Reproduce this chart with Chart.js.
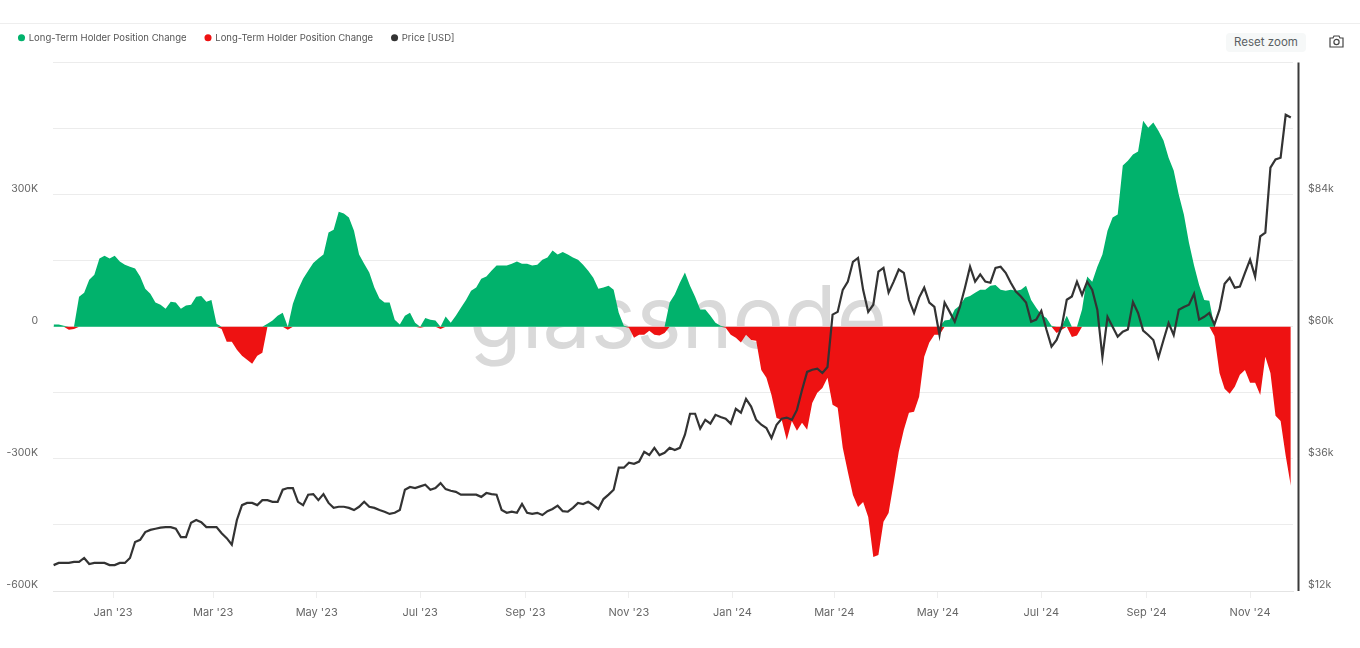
<!DOCTYPE html>
<html><head><meta charset="utf-8">
<script src="https://cdn.jsdelivr.net/npm/chart.js@4"></script>
<style>
html,body{margin:0;padding:0;background:#fff;width:1360px;height:648px;overflow:hidden;font-family:Inter,sans-serif}
#wrap{position:relative;width:1360px;height:648px}
#top{position:absolute;left:0;right:0;top:23px;height:1px;background:#eeeeee}
#mark{position:absolute;left:469px;top:262px;font:400 86px/110px Inter,sans-serif;color:#d9d9d9;white-space:nowrap}
#reset{position:absolute;left:1226px;top:33px;width:80px;height:19px;background:#f6f8f8;border-radius:4px;color:#5a5f63;font:400 11.5px/19px Inter,sans-serif;text-align:center}
#cam{position:absolute;left:1329px;top:35px}
canvas{position:absolute;left:0;top:0}
</style></head>
<body><div id="wrap">
<div id="top"></div>
<div id="mark">glassnode</div>
<canvas id="c" width="1360" height="648"></canvas>
<div id="reset">Reset zoom</div>
<svg id="cam" width="15" height="13" viewBox="0 0 15 13" fill="none" stroke="#444" stroke-width="1.2"><path d="M1 3h3l1-2h5l1 2h3v9H1z"/><circle cx="7.5" cy="7" r="2.6"/></svg>
</div>
<script>
// Day offsets are counted from 1 Jan 2023; one sample every three days.
const firstDay = -35, stepDays = 3;
const monthTicks = [0,59,120,181,243,304,365,425,486,547,609,670];
const monthLabels = ["Jan '23","Mar '23","May '23","Jul '23","Sep '23","Nov '23","Jan '24","Mar '24","May '24","Jul '24","Sep '24","Nov '24"];
// Long-term holder position change, thousands of BTC
const positionChange = [
5,5,2,-7,-5,68,77,107,118,155,
161,155,161,148,141,136,132,114,86,75,
55,50,41,57,55,41,48,50,68,70,
57,61,7,-5,-34,-34,-52,-66,-75,-84,
-66,-59,7,14,25,32,-7,52,84,109,
127,145,155,164,214,220,261,257,248,218,
164,143,123,89,64,55,55,16,5,25,
32,9,-2,20,16,14,-5,23,9,25,
43,61,82,89,109,114,127,139,139,139,
143,148,143,143,139,141,152,157,173,164,
170,164,157,152,141,127,111,86,89,93,
84,32,2,-2,-25,-18,-18,-9,-18,-20,
-14,55,73,100,123,93,68,39,39,25,
9,2,-2,-18,-25,-36,-18,-30,-32,-98,
-116,-155,-207,-211,-257,-214,-236,-218,-234,-173,
-150,-139,-116,-177,-184,-275,-330,-382,-409,-398,
-432,-523,-518,-443,-423,-355,-284,-234,-195,-193,
-159,-68,-36,-18,-18,14,16,39,48,66,
70,77,84,84,93,95,84,82,84,82,
84,93,61,43,27,20,2,-14,-7,25,
-23,-20,39,114,102,136,164,218,248,255,
366,377,391,398,468,452,464,445,423,384,
355,300,255,191,139,95,61,59,-21,-105,
-141,-152,-136,-109,-98,-127,-127,-155,-68,-105,
-202,-214,-293,-361];
// BTC price, thousands of USD
const priceUsd = [
16.7,17.1,17.1,17.1,17.3,17.3,18.0,16.9,17.1,17.1,
17.1,16.7,16.7,17.1,17.1,18.0,20.9,21.3,22.7,23.1,
23.3,23.5,23.6,23.6,23.3,21.8,21.8,24.4,24.9,24.5,
23.6,23.6,23.6,22.5,21.6,20.4,24.9,27.6,28.0,28.0,
27.6,28.5,28.5,28.2,28.2,30.4,30.7,30.7,28.2,27.6,
29.5,29.6,28.5,29.6,28.0,27.1,27.3,27.3,27.1,26.7,
27.3,28.2,27.3,27.1,26.7,26.4,26.0,26.2,26.7,30.4,
30.9,30.7,31.0,31.3,30.4,30.7,31.6,30.5,30.2,30.0,
29.5,29.5,29.5,29.5,29.1,29.8,29.6,29.5,26.7,26.2,
26.4,26.2,27.8,26.2,26.0,26.2,25.8,26.5,26.9,27.5,
26.5,26.4,27.1,28.0,27.8,28.2,27.6,26.9,28.7,29.5,
30.4,34.4,34.4,35.3,35.1,35.5,37.3,36.7,38.0,36.7,
37.1,38.0,37.6,38.0,40.4,44.2,44.2,41.5,43.1,42.4,
44.0,43.6,43.3,42.4,45.1,44.4,46.9,45.5,43.1,42.2,
41.6,39.8,42.2,43.3,43.5,43.1,44.9,48.5,51.8,52.2,
52.4,51.6,52.7,62.2,62.7,66.7,68.2,71.8,72.5,66.7,
62.7,64.0,70.0,70.7,66.2,68.2,70.4,69.8,64.9,62.5,
65.3,67.1,64.4,63.6,58.5,64.4,62.7,60.9,63.6,67.1,
70.9,68.2,69.5,68.2,68.0,70.7,70.9,69.8,68.0,66.4,
65.5,64.4,60.9,61.3,62.9,59.5,56.4,57.6,60.0,64.9,
65.5,68.2,65.8,68.2,66.7,63.1,54.5,61.8,60.0,58.2,
59.1,59.5,64.5,62.5,59.3,58.5,57.6,54.4,57.6,60.7,
58.5,63.1,63.6,64.0,66.0,61.3,61.8,62.5,60.4,63.1,
67.8,68.9,67.1,67.3,69.8,72.2,69.1,76.4,77.1,88.9,
90.4,90.7,98.5,98.0];

const seriesName = "Long-Term Holder Position Change";
const dayOf = i => firstDay + i * stepDays;
const gains = positionChange.map((v, i) => ({x: dayOf(i), y: v > 0 ? v : 0}));
const losses = positionChange.map((v, i) => ({x: dayOf(i), y: v < 0 ? v : 0}));
const price = priceUsd.map((v, i) => ({x: dayOf(i), y: v}));

const fontX = {family: "Inter, sans-serif", size: 11};
const fontY = {family: "Inter, sans-serif", size: 10.5};
const axisEdge = {
  id: 'axisEdge',
  beforeInit(ch) {
    const fit = ch.legend.fit;
    ch.legend.fit = function () { fit.call(this); this.height += 10; };
  },
  afterDatasetsDraw(ch) {
    const g = ch.ctx, a = ch.chartArea;
    g.save(); g.strokeStyle = '#3a3a3a'; g.lineWidth = 2;
    g.beginPath(); g.moveTo(a.right + 5.5, a.top); g.lineTo(a.right + 5.5, a.bottom); g.stroke();
    g.restore();
  }
};
const areaStyle = {yAxisID: 'y', fill: 'origin', borderWidth: 0, pointRadius: 0, tension: 0, order: 1, pointStyle: 'circle'};
new Chart(document.getElementById('c'), {
  type: 'line',
  plugins: [axisEdge],
  data: { datasets: [
    {...areaStyle, label: seriesName, data: gains, backgroundColor: '#01b26c', borderColor: '#01b26c'},
    {...areaStyle, label: seriesName, data: losses, backgroundColor: '#ee1212', borderColor: '#ee1212'},
    {label: 'Price [USD]', data: price, yAxisID: 'y1', fill: false, borderColor: '#333333', backgroundColor: '#333333', borderWidth: 2.2, pointRadius: 0, tension: 0, order: 0, pointStyle: 'circle'}
  ]},
  options: {
    responsive: false, animation: false,
    layout: {padding: {top: 14, left: 0, right: 0, bottom: 0}},
    plugins: {
      tooltip: {enabled: false},
      legend: {position: 'top', align: 'start',
        labels: {usePointStyle: true, boxWidth: 5, boxHeight: 5, padding: 19, color: '#555', font: {family: "Inter, sans-serif", size: 9.5},
          sort: (a, b) => a.datasetIndex - b.datasetIndex,
          generateLabels: ch => Chart.defaults.plugins.legend.labels.generateLabels(ch).map(l => ({...l, lineWidth: 0}))}}
    },
    scales: {
      x: {type: 'linear', offset: false, min: -35.36, max: 695.3,
        afterBuildTicks: s => { s.ticks = monthTicks.map(v => ({value: v})); },
        afterFit: s => { s.height = 57; },
        border: {color: '#e4e4e4'},
        grid: {drawOnChartArea: false, color: '#eeeeee', tickLength: 7, offset: false},
        ticks: {autoSkip: false, maxRotation: 0, padding: 8, color: '#666', font: fontX,
          callback: v => monthLabels[monthTicks.indexOf(v)]}
      },
      y: {position: 'left', min: -600, max: 600,
        afterFit: s => { s.width = 53; },
        border: {display: false},
        grid: {color: '#ececec', drawTicks: false},
        ticks: {stepSize: 150, autoSkip: false, padding: 15, labelOffset: -6, color: '#666', font: fontY,
          callback: v => (v % 300 === 0 && v < 600) ? (v === 0 ? '0' : v + 'K') : ''}
      },
      y1: {position: 'right', min: 12, max: 108,
        afterFit: s => { s.width = 67; },
        border: {display: false},
        grid: {drawOnChartArea: false, drawTicks: false},
        ticks: {stepSize: 12, autoSkip: false, padding: 15, labelOffset: -6, color: '#666', font: fontY,
          callback: v => ((v - 12) % 24 === 0 && v < 108) ? '$' + v + 'k' : ''}
      }
    }
  }
});
</script>
</body></html>
